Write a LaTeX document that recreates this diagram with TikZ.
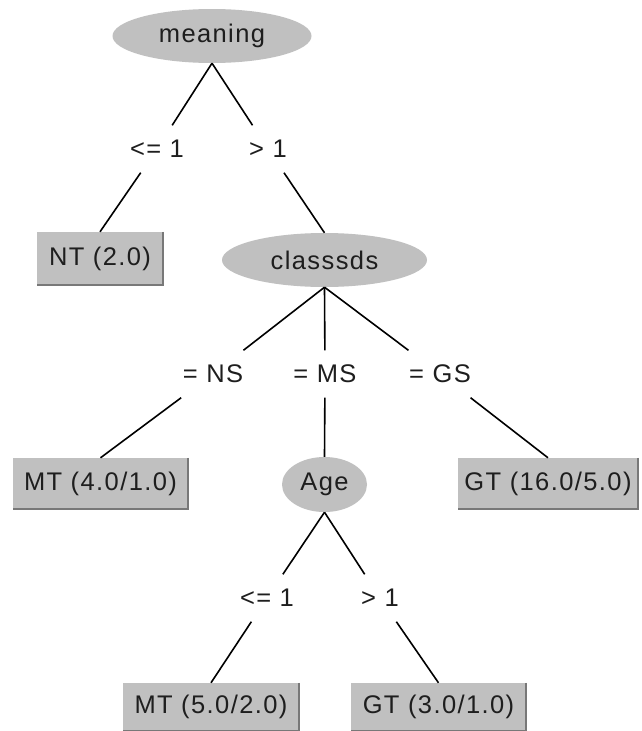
\documentclass[tikz,border=0pt]{standalone}
\usepackage{fontspec}
\setmainfont[LetterSpace=5.5]{Liberation Sans}
\usetikzlibrary{shapes.geometric}
\definecolor{nodegray}{RGB}{192,192,192}
\definecolor{edgegray}{RGB}{120,120,120}
\definecolor{txt}{RGB}{30,30,30}
\begin{document}
\begin{tikzpicture}[x=1pt,y=-1pt,
  every node/.style={font=\fontsize{25.5}{30}\selectfont, inner sep=0pt, text=txt},
  attr/.style={ellipse, fill=nodegray},
  leaf/.style={rectangle, fill=nodegray},
  cond/.style={rectangle, minimum height=47pt, minimum width=100pt},
  edge/.style={draw=black, line width=1.6pt},
  rim/.style={draw=edgegray, line width=2.2pt}]
\fill[white] (0,0) rectangle (642,731);
\useasboundingbox (0,0) rectangle (642,731);

% attribute nodes
\node[attr, minimum width=199pt, minimum height=54pt] (meaning) at (212,36) {meaning};
\node[attr, minimum width=205pt, minimum height=54pt] (classsds) at (324.5,260) {classsds};
\node[attr, minimum width=85pt, minimum height=55pt] (age) at (324.5,484.5) {Age};

% leaves
\node[leaf, minimum width=126pt, minimum height=53pt] (nt) at (100,258.5) {NT (2.0)};
\node[leaf, minimum width=175pt, minimum height=51pt] (mtA) at (100.5,483.5) {MT (4.0/1.0)};
\node[leaf, minimum width=180pt, minimum height=51pt] (gtA) at (548,483.5) {GT (16.0/5.0)};
\node[leaf, minimum width=176pt, minimum height=48pt] (mtB) at (211,707) {MT (5.0/2.0)};
\node[leaf, minimum width=175pt, minimum height=48pt] (gtB) at (438.5,707) {GT (3.0/1.0)};

% leaf rims (3D edge)
\foreach \n in {nt,mtA,gtA,mtB,gtB}{
  \draw[rim] (\n.north east) -- (\n.south east) -- (\n.south west);
}

% condition labels
\node[cond] (leA) at (157,149) {<= 1};
\node[cond] (gtlA) at (268,149) {> 1};
\node[cond] (ns) at (213,374) {= NS};
\node[cond] (ms) at (325,374) {= MS};
\node[cond] (gs) at (440,374) {= GS};
\node[cond] (leB) at (267,598) {<= 1};
\node[cond] (gtlB) at (380,598) {> 1};

% connectors
\draw[edge] (meaning.south) -- (leA);
\draw[edge] (leA) -- (nt.north);
\draw[edge] (meaning.south) -- (gtlA);
\draw[edge] (gtlA) -- (classsds.north);

\draw[edge] (classsds.south) -- (ns);
\draw[edge] (ns) -- (mtA.north);
\draw[edge] (classsds.south) -- (ms);
\draw[edge] (ms) -- (age.north);
\draw[edge] (classsds.south) -- (gs);
\draw[edge] (gs) -- (gtA.north);

\draw[edge] (age.south) -- (leB);
\draw[edge] (leB) -- (mtB.north);
\draw[edge] (age.south) -- (gtlB);
\draw[edge] (gtlB) -- (gtB.north);
\end{tikzpicture}
\end{document}
